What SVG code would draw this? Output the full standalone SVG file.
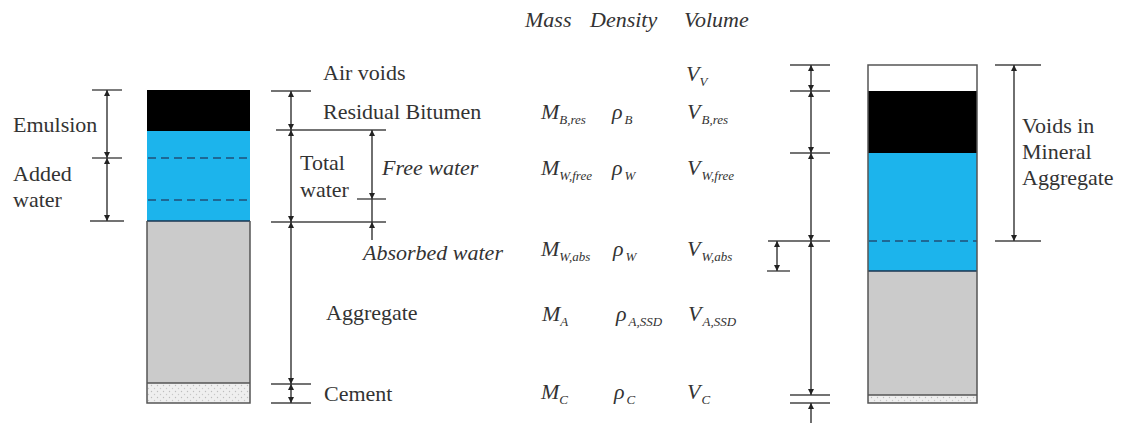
<svg xmlns="http://www.w3.org/2000/svg" width="1123" height="447" viewBox="0 0 1123 447" font-family="Liberation Serif, Tinos, DejaVu Serif, serif">
<defs>
<style>
text{font-family:'Liberation Serif','Tinos','DejaVu Serif',serif;fill:#333;font-size:22px}
.it{font-style:italic}
.sub{font-size:13px;font-style:italic}
.dim{stroke:#333;stroke-width:1.4;fill:none}
.arr{stroke:#333;stroke-width:1.4;fill:none;marker-start:url(#ah);marker-end:url(#ah)}
.tick{stroke:#444;stroke-width:1.4}
.box{stroke:#555;stroke-width:1.5}
.dash{stroke:#1f4f78;stroke-width:1.6;stroke-dasharray:8 5}
</style>
<marker id="ah" viewBox="0 0 10 10" refX="10" refY="5" markerWidth="7" markerHeight="6" orient="auto-start-reverse" markerUnits="userSpaceOnUse">
<path d="M0,0 L10,5 L0,10 z" fill="#222"/>
</marker>
<pattern id="stip" width="6" height="6" patternUnits="userSpaceOnUse">
<rect width="6" height="6" fill="#efefef"/>
<circle cx="1.5" cy="1.5" r="0.7" fill="#bdbdbd"/>
<circle cx="4.5" cy="4.5" r="0.7" fill="#c8c8c8"/>
</pattern>
</defs>
<rect width="1123" height="447" fill="#fff"/>

<g id="header">
<text class="it" x="525" y="27">Mass</text>
<text class="it" x="590" y="27">Density</text>
<text class="it" x="684" y="27">Volume</text>
</g>

<g id="column-left">
<rect x="147" y="90" width="103" height="41" fill="#000"/>
<rect x="147" y="131" width="103" height="90" fill="#1cb4ec"/>
<line class="dash" x1="148" y1="158" x2="250" y2="158"/>
<line class="dash" x1="148" y1="200" x2="250" y2="200"/>
<rect x="147" y="221" width="103" height="162" fill="#cbcbcb"/>
<rect x="147" y="383" width="103" height="20" fill="url(#stip)"/>
<line x1="147" y1="221" x2="250" y2="221" stroke="#1a3550" stroke-width="1.6"/>
<line x1="147" y1="383" x2="250" y2="383" stroke="#555" stroke-width="1.4"/>
<path class="box" fill="none" d="M147,221 V403 H250 V221"/>
</g>

<g id="column-right">
<rect x="868" y="65" width="109" height="26" fill="#fff"/>
<rect x="868" y="91" width="109" height="62" fill="#000"/>
<rect x="868" y="153" width="109" height="118" fill="#1cb4ec"/>
<line class="dash" x1="869" y1="241" x2="977" y2="241"/>
<rect x="868" y="271" width="109" height="124" fill="#cbcbcb"/>
<rect x="868" y="395" width="109" height="8" fill="url(#stip)"/>
<line x1="868" y1="271" x2="977" y2="271" stroke="#1a3550" stroke-width="1.6"/>
<line x1="868" y1="395" x2="977" y2="395" stroke="#555" stroke-width="1.4"/>
<rect class="box" x="868" y="65" width="109" height="338" fill="none"/>
</g>

<g id="labels-left">
<text x="13" y="132">Emulsion</text>
<text x="13" y="181">Added</text>
<text x="13" y="207">water</text>
</g>

<g id="labels-middle">
<text x="323" y="80">Air voids</text>
<text x="323" y="119">Residual Bitumen</text>
<text x="300" y="170">Total</text>
<text x="300" y="197">water</text>
<text class="it" x="382" y="175">Free water</text>
<text class="it" x="363" y="260">Absorbed water</text>
<text x="326" y="320">Aggregate</text>
<text x="324" y="401">Cement</text>
</g>

<g id="symbols">
<text class="it" x="686" y="81">V<tspan class="sub" dy="5">V</tspan></text>
<text class="it" x="541" y="119">M<tspan class="sub" dy="5">B,res</tspan></text>
<text class="it" x="612" y="119">ρ<tspan class="sub" dx="2" dy="5">B</tspan></text>
<text class="it" x="687" y="119">V<tspan class="sub" dx="1" dy="5">B,res</tspan></text>
<text class="it" x="541" y="175">M<tspan class="sub" dy="5">W,free</tspan></text>
<text class="it" x="612" y="175">ρ<tspan class="sub" dx="2" dy="5">W</tspan></text>
<text class="it" x="687" y="175">V<tspan class="sub" dx="1" dy="5">W,free</tspan></text>
<text class="it" x="541" y="256">M<tspan class="sub" dy="5">W,abs</tspan></text>
<text class="it" x="613" y="256">ρ<tspan class="sub" dx="2" dy="5">W</tspan></text>
<text class="it" x="687" y="256">V<tspan class="sub" dx="1" dy="5">W,abs</tspan></text>
<text class="it" x="542" y="321">M<tspan class="sub" dy="5">A</tspan></text>
<text class="it" x="616" y="321">ρ<tspan class="sub" dx="2" dy="5">A,SSD</tspan></text>
<text class="it" x="688" y="321">V<tspan class="sub" dx="1" dy="5">A,SSD</tspan></text>
<text class="it" x="541" y="399">M<tspan class="sub" dy="5">C</tspan></text>
<text class="it" x="614" y="399">ρ<tspan class="sub" dx="2" dy="5">C</tspan></text>
<text class="it" x="687" y="399">V<tspan class="sub" dx="1" dy="5">C</tspan></text>
</g>

<g id="connectors">
<line class="tick" x1="92" y1="90" x2="122" y2="90"/>
<line class="tick" x1="92" y1="158" x2="122" y2="158"/>
<line class="tick" x1="90" y1="221" x2="124" y2="221"/>
<line class="arr" x1="107" y1="90" x2="107" y2="158"/>
<line class="arr" x1="107" y1="158" x2="107" y2="221"/>

<line class="tick" x1="271" y1="91" x2="311" y2="91"/>
<line class="tick" x1="276" y1="130" x2="386" y2="130"/>
<line class="tick" x1="271" y1="222" x2="386" y2="222"/>
<line class="tick" x1="271" y1="384" x2="311" y2="384"/>
<line class="tick" x1="271" y1="403" x2="311" y2="403"/>
<line class="arr" x1="291" y1="91" x2="291" y2="130"/>
<line class="arr" x1="291" y1="130" x2="291" y2="222"/>
<line class="arr" x1="291" y1="222" x2="291" y2="384"/>
<line class="arr" x1="291" y1="384" x2="291" y2="403"/>

<line class="tick" x1="357" y1="199" x2="386" y2="199"/>
<line class="arr" x1="372" y1="130" x2="372" y2="199"/>
<line class="dim" x1="372" y1="199" x2="372" y2="222"/>
<line class="dim" x1="372" y1="222" x2="372" y2="240" marker-start="url(#ah)"/>

<line class="tick" x1="790" y1="65" x2="830" y2="65"/>
<line class="tick" x1="790" y1="91" x2="830" y2="91"/>
<line class="tick" x1="790" y1="153" x2="830" y2="153"/>
<line class="tick" x1="768" y1="241" x2="830" y2="241"/>
<line class="tick" x1="790" y1="395" x2="830" y2="395"/>
<line class="tick" x1="790" y1="403" x2="830" y2="403"/>
<line class="arr" x1="811" y1="65" x2="811" y2="91"/>
<line class="arr" x1="811" y1="91" x2="811" y2="153"/>
<line class="arr" x1="811" y1="153" x2="811" y2="241"/>
<line class="arr" x1="811" y1="241" x2="811" y2="395"/>
<line class="dim" x1="811" y1="423" x2="811" y2="403" marker-end="url(#ah)"/>

<line class="tick" x1="767" y1="271" x2="790" y2="271"/>
<line class="arr" x1="777" y1="241" x2="777" y2="271"/>

<line class="tick" x1="995" y1="65" x2="1041" y2="65"/>
<line class="tick" x1="995" y1="241" x2="1041" y2="241"/>
<line class="arr" x1="1014" y1="65" x2="1014" y2="241"/>
</g>

<g id="labels-right">
<text x="1022" y="133">Voids in</text>
<text x="1022" y="159">Mineral</text>
<text x="1022" y="185">Aggregate</text>
</g>
</svg>
